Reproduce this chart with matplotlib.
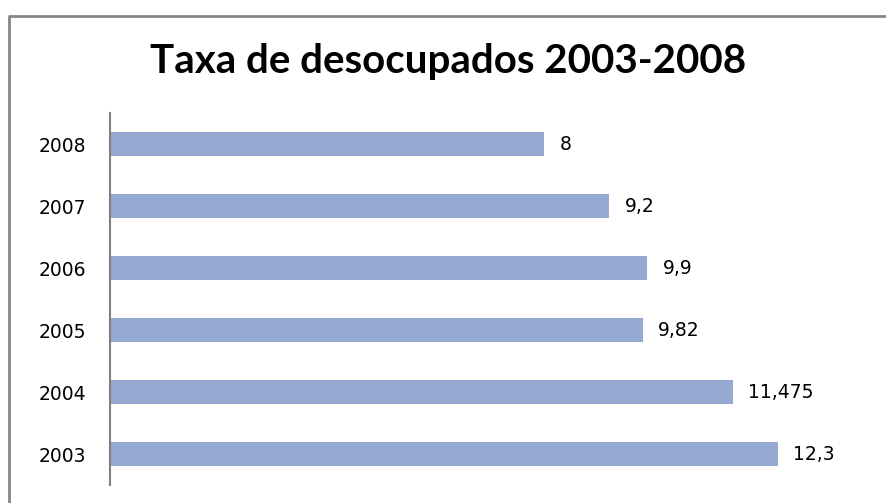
import matplotlib.pyplot as plt
from matplotlib.lines import Line2D

years = ["2003", "2004", "2005", "2006", "2007", "2008"]
values = [12.3, 11.475, 9.82, 9.9, 9.2, 8]
value_labels = ["12,3", "11,475", "9,82", "9,9", "9,2", "8"]

fig = plt.figure(figsize=(8.86, 5.03), dpi=100)
ax = fig.add_axes([110 / 886, 18 / 503, 760 / 886, 372 / 503])

y = range(len(years))
ax.barh(y, values, height=0.4, color="#95A9D1")
for yi, v, lab in zip(y, values, value_labels):
    ax.annotate(lab, (v, yi), xytext=(15, 0), textcoords="offset pixels",
                va="center", ha="left", fontsize=13.5, family="DejaVu Sans")

ax.set_xlim(0, 14)
ax.set_ylim(-0.5, 5.5)
ax.set_yticks(list(y))
ax.set_yticklabels(years, fontsize=13.5, family="DejaVu Sans")
ax.tick_params(axis="y", length=0, pad=17)
ax.set_xticks([])
for s in ["top", "right", "bottom"]:
    ax.spines[s].set_visible(False)
ax.spines["left"].set_color("#808080")
ax.spines["left"].set_linewidth(1.5)

fig.text(0.506, 1 - 62 / 503, "Taxa de desocupados 2003-2008", ha="center",
         va="center", fontsize=29, fontweight="bold", family="Lato")

# chart frame (cut off at right and bottom)
bx = 9 / 886
by = 1 - 16 / 503
fig.add_artist(Line2D([bx, bx, 1], [0, by, by], transform=fig.transFigure,
                      color="#868686", linewidth=2))

fig.savefig("out.png", dpi=100)
